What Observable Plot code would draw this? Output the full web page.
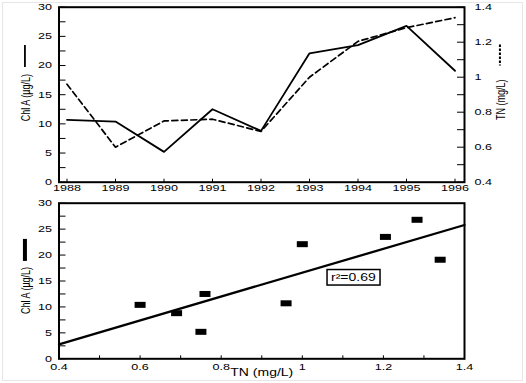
<!DOCTYPE html>
<html><head><meta charset="utf-8">
<script src="https://cdn.jsdelivr.net/npm/d3@7"></script>
<script src="https://cdn.jsdelivr.net/npm/@observablehq/plot@0.6"></script>
<style>
html,body{margin:0;padding:0;background:#fff;}
#chart{position:relative;width:526px;height:383px;overflow:hidden;background:#fff;}
#chart svg{position:absolute;left:0;}
#edge{position:absolute;left:2px;top:2px;width:519px;height:377px;border:1px solid #e6e6e6;}
</style></head>
<body><div id="chart"><div id="edge"></div></div>
<script>
// ---- data ----
const years = [1988, 1989, 1990, 1991, 1992, 1993, 1994, 1995, 1996];
const chlA = [10.7, 10.4, 5.2, 12.5, 8.8, 22.1, 23.5, 26.8, 19.1];
const tn = [0.96, 0.60, 0.75, 0.76, 0.69, 1.00, 1.205, 1.283, 1.34];
const chlTicks = [0, 5, 10, 15, 20, 25, 30];
const chlMinorTicks = [0, 2.5, 5, 7.5, 10, 12.5, 15, 17.5, 20, 22.5, 25, 27.5, 30];
const tnTicks = [0.4, 0.6, 0.8, 1, 1.2, 1.4];
const tnMinorTicks = [0.4, 0.5, 0.6, 0.7, 0.8, 0.9, 1, 1.1, 1.2, 1.3, 1.4];
const fitTN = [0.4, 1.4];
const fitChl = [2.8, 25.8];
const r2Text = ["r\u00B2=0.69"];
const r2TN = [1.126];
const r2Chl = [15.7];
const chlLabel = "Chl A (\u00B5g/L)";
const tnLabel = "TN (mg/L)";

// ---- layout ----
const W = 526;
const font = "'Liberation Sans', Arial, Helvetica, sans-serif";
const style = {fontFamily: font, fontSize: "9px", color: "black", background: "transparent", overflow: "visible"};
const toChl = t => (t - 0.4) * 30;
const fmt = v => String(+v.toFixed(1));

const m1 = {h: 200, t: 6.7, b: 18.3, l: 58.5, r: 62};
const pw1 = W - m1.l - m1.r, ph1 = m1.h - m1.t - m1.b;

const p1 = Plot.plot({
  width: W, height: m1.h,
  marginTop: m1.t, marginBottom: m1.b, marginLeft: m1.l, marginRight: m1.r,
  x: {domain: [1988, 1996], insetLeft: 8, insetRight: 9.5},
  y: {domain: [0, 30]},
  style,
  marks: [
    Plot.axisY({anchor: "left", ticks: chlTicks, tickSize: 0, tickPadding: 7, label: null}),
    Plot.axisY({anchor: "right", ticks: chlMinorTicks, tickSize: 6, dx: -pw1, fill: "none", label: null}),
    Plot.axisY({anchor: "right", ticks: tnTicks.map(toChl), tickFormat: d => fmt(d / 30 + 0.4), tickSize: 0, tickPadding: 10, label: null}),
    Plot.axisY({anchor: "left", ticks: tnMinorTicks.map(toChl), tickSize: 7, dx: pw1, fill: "none", label: null}),
    Plot.axisX({anchor: "bottom", ticks: years, tickFormat: d => String(d), tickSize: 0, tickPadding: 2.5, label: null}),
    Plot.axisX({anchor: "top", ticks: years, tickSize: 4, dy: ph1, fill: "none", label: null}),
    Plot.line(years, {x: years, y: tn.map(toChl), stroke: "black", strokeWidth: 1.7, strokeDasharray: "6,3.5"}),
    Plot.line(years, {x: years, y: chlA, stroke: "black", strokeWidth: 1.8}),
    Plot.frame({stroke: "black", strokeWidth: 2}),
    Plot.text([chlLabel], {frameAnchor: "left", textAnchor: "middle", rotate: -90, dx: -33.5, dy: 3, className: "lab-chl1"}),
    Plot.text([tnLabel], {frameAnchor: "right", textAnchor: "middle", rotate: -90, dx: 36, dy: 5, className: "lab-tn1"})
  ]
});

const m2 = {h: 188, t: 7.7, b: 24.7, l: 58.5, r: 62};
const pw2 = W - m2.l - m2.r, ph2 = m2.h - m2.t - m2.b;
const rectSymbol = {draw(ctx) { ctx.moveTo(-5.5, -3); ctx.lineTo(5.5, -3); ctx.lineTo(5.5, 3); ctx.lineTo(-5.5, 3); ctx.closePath(); }};

const p2 = Plot.plot({
  width: W, height: m2.h,
  marginTop: m2.t, marginBottom: m2.b, marginLeft: m2.l, marginRight: m2.r,
  x: {domain: [0.4, 1.4]},
  y: {domain: [0, 30]},
  style,
  marks: [
    Plot.axisY({anchor: "left", ticks: chlTicks, tickSize: 0, tickPadding: 7, label: null}),
    Plot.axisY({anchor: "right", ticks: chlMinorTicks, tickSize: 6, dx: -pw2, fill: "none", label: null}),
    Plot.axisX({anchor: "bottom", ticks: tnTicks, tickFormat: fmt, tickSize: 0, tickPadding: 5, label: null}),
    Plot.axisX({anchor: "top", ticks: tnMinorTicks, tickSize: 4, dy: ph2, fill: "none", label: null}),
    Plot.line(fitTN, {x: fitTN, y: fitChl, stroke: "black", strokeWidth: 2.3}),
    Plot.dot(chlA, {x: tn, y: chlA, symbol: rectSymbol, fill: "black", stroke: null}),
    Plot.text(r2Text, {x: r2TN, y: r2Chl, fontSize: 10, className: "lab-r2"}),
    Plot.frame({stroke: "black", strokeWidth: 2}),
    Plot.text([chlLabel], {frameAnchor: "left", textAnchor: "middle", rotate: -90, dx: -33.5, dy: 9.5, className: "lab-chl2"}),
    Plot.text([tnLabel], {frameAnchor: "bottom", textAnchor: "middle", dy: 17, fontSize: 10})
  ]
});

const chart = document.getElementById("chart");
p1.style.top = "0px";
p2.style.top = "195px";
chart.appendChild(p1);
chart.appendChild(p2);

// horizontally widened lettering, as in the reference
function stretch(svg, k) {
  svg.querySelectorAll("text").forEach(t => {
    const tr = t.getAttribute("transform");
    if (tr) t.setAttribute("transform", tr + (tr.includes("rotate") ? ` scale(1,${k})` : ` scale(${k},1)`));
    else {
      const x = +t.getAttribute("x") || 0, y = +t.getAttribute("y") || 0;
      t.setAttribute("transform", `translate(${x},${y}) scale(${k},1) translate(${-x},${-y})`);
    }
  });
}
stretch(p1, 1.4);
stretch(p2, 1.4);

function boxOf(svg, sel) {
  const t = svg.querySelector(sel);
  const b = t.getBoundingClientRect(), s = svg.getBoundingClientRect();
  return {x0: b.left - s.left, x1: b.right - s.left, y0: b.top - s.top, y1: b.bottom - s.top};
}
const NS = "http://www.w3.org/2000/svg";
function add(svg, tag, attrs) {
  const e = document.createElementNS(NS, tag);
  for (const k in attrs) e.setAttribute(k, attrs[k]);
  svg.appendChild(e);
  return e;
}
// legend keys above the axis titles
{
  const b = boxOf(p1, ".lab-chl1 text");
  const cx = (b.x0 + b.x1) / 2;
  add(p1, "line", {x1: cx, x2: cx, y1: b.y0 - 29, y2: b.y0 - 7, stroke: "black", "stroke-width": 1.8});
}
{
  const b = boxOf(p1, ".lab-tn1 text");
  const cx = (b.x0 + b.x1) / 2;
  add(p1, "line", {x1: cx, x2: cx, y1: b.y0 - 35, y2: b.y0 - 14, stroke: "black", "stroke-width": 2, "stroke-dasharray": "2.5,1.5"});
}
{
  const b = boxOf(p2, ".lab-chl2 text");
  const cx = (b.x0 + b.x1) / 2;
  add(p2, "rect", {x: cx - 2, width: 4, y: b.y0 - 28, height: 22, fill: "black"});
}
{
  const b = boxOf(p2, ".lab-r2 text");
  add(p2, "rect", {x: b.x0 - 4, y: b.y0 - 2, width: b.x1 - b.x0 + 8, height: b.y1 - b.y0 + 4, fill: "none", stroke: "black", "stroke-width": 1.5});
}
</script>
</body></html>
